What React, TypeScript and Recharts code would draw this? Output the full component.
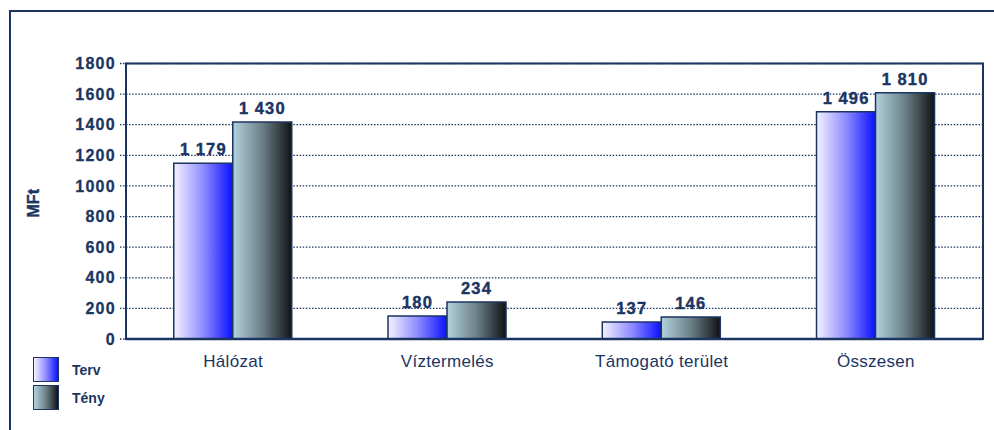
import React from 'react';
import { BarChart, Bar, XAxis, YAxis, CartesianGrid, LabelList, ReferenceArea } from 'recharts';

const categories = ['Hálózat', 'Víztermelés', 'Támogató terület', 'Összesen'];
const tervValues = [1148, 150, 111, 1485];
const tenyValues = [1418, 242, 144, 1609];
const tervLabels = ['1 179', '180', '137', '1 496'];
const tenyLabels = ['1 430', '234', '146', '1 810'];
const seriesNames = ['Terv', 'Tény'];
const yTicks = [0, 200, 400, 600, 800, 1000, 1200, 1400, 1600, 1800];
const yAxisTitle = 'MFt';

const NAVY = '#1b3563';
const FONT = '"Liberation Sans", Arial, Helvetica, sans-serif';

const data = categories.map((c, i) => ({
  cat: c,
  terv: tervValues[i],
  teny: tenyValues[i],
  tervLabel: tervLabels[i],
  tenyLabel: tenyLabels[i],
}));

const tervGradientCss = 'linear-gradient(to right, #f4f2ff 0%, #8f8cff 50%, #0a10ff 100%)';
const tenyGradientCss = 'linear-gradient(to right, #b2d2de 0%, #6c8088 50%, #0f1214 100%)';

const MfLabel = (props: any) => {
  const vb = props.viewBox || { x: 33, y: 63.5, height: 275.5 };
  const x = vb.x + 5.5;
  const y = vb.y + vb.height / 2 + 2;
  return (
    <text
      x={x}
      y={y}
      transform={`rotate(-90, ${x}, ${y})`}
      textAnchor="middle"
      fill={NAVY}
      stroke={NAVY}
      strokeWidth={0.4}
      fontFamily={FONT}
      fontWeight="bold"
      fontSize={16}
    >
      {yAxisTitle}
    </text>
  );
};

const labelStyle = {
  fill: NAVY,
  stroke: NAVY,
  strokeWidth: 0.4,
  fontSize: 16.5,
  fontWeight: 'bold',
  fontFamily: FONT,
  letterSpacing: 1.1,
};

export default function App() {
  return (
    <div
      style={{
        position: 'absolute',
        left: 0,
        top: 0,
        width: 994,
        height: 430,
        overflow: 'hidden',
        background: '#ffffff',
        fontFamily: FONT,
      }}
    >
      <div
        style={{
          position: 'absolute',
          left: 9,
          top: 9.5,
          width: 1100,
          height: 600,
          border: `2px solid ${NAVY}`,
          boxSizing: 'border-box',
        }}
      />
      <div style={{ position: 'absolute', left: 0, top: 0 }}>
        <BarChart
          width={994}
          height={430}
          data={data}
          margin={{ top: 63.5, right: 11, bottom: 61, left: 33 }}
          barCategoryGap="22.3%"
          barGap={0}
        >
          <defs>
            <linearGradient id="gradTerv" x1="0" y1="0" x2="1" y2="0">
              <stop offset="0%" stopColor="#f4f2ff" />
              <stop offset="50%" stopColor="#8f8cff" />
              <stop offset="100%" stopColor="#0a10ff" />
            </linearGradient>
            <linearGradient id="gradTeny" x1="0" y1="0" x2="1" y2="0">
              <stop offset="0%" stopColor="#b2d2de" />
              <stop offset="50%" stopColor="#6c8088" />
              <stop offset="100%" stopColor="#0f1214" />
            </linearGradient>
          </defs>
          <CartesianGrid
            vertical={false}
            stroke={NAVY}
            strokeWidth={1.3}
            strokeDasharray="1.5 1.6"
          />
          <XAxis
            dataKey="cat"
            height={30}
            tickLine={false}
            tickMargin={10}
            axisLine={{ stroke: NAVY, strokeWidth: 2.5 }}
            tick={{ fill: NAVY, fontSize: 17, fontFamily: FONT, letterSpacing: 0.3 }}
            interval={0}
          />
          <YAxis
            width={93}
            domain={[0, 1800]}
            ticks={yTicks}
            interval={0}
            allowDataOverflow
            tickSize={6}
            tickMargin={4}
            tickLine={{ stroke: NAVY, strokeWidth: 1.3, strokeDasharray: '1.5 1.6' }}
            axisLine={{ stroke: NAVY, strokeWidth: 2 }}
            tick={{ fill: NAVY, stroke: NAVY, strokeWidth: 0.3, fontSize: 16, fontWeight: 'bold', fontFamily: FONT, letterSpacing: 1.3 }}
            label={{ content: MfLabel }}
          />
          <ReferenceArea
            x1={categories[0]}
            x2={categories[categories.length - 1]}
            y1={0}
            y2={1800}
            fill="none"
            fillOpacity={0}
            stroke={NAVY}
            strokeWidth={2}
            strokeOpacity={1}
            ifOverflow="visible"
          />
          <Bar
            dataKey="terv"
            name={seriesNames[0]}
            fill="url(#gradTerv)"
            stroke={NAVY}
            strokeWidth={1.5}
            isAnimationActive={false}
          >
            <LabelList dataKey="tervLabel" position="top" offset={8} {...labelStyle} />
          </Bar>
          <Bar
            dataKey="teny"
            name={seriesNames[1]}
            fill="url(#gradTeny)"
            stroke={NAVY}
            strokeWidth={1.5}
            isAnimationActive={false}
          >
            <LabelList dataKey="tenyLabel" position="top" offset={8} {...labelStyle} />
          </Bar>
        </BarChart>
      </div>
      {seriesNames.map((name, i) => (
        <div
          key={name}
          style={{
            position: 'absolute',
            left: 33,
            top: 357 + i * 28,
            height: 25,
            display: 'flex',
            alignItems: 'center',
          }}
        >
          <div
            style={{
              width: 26,
              height: 25,
              boxSizing: 'border-box',
              border: `1.5px solid ${NAVY}`,
              background: i === 0 ? tervGradientCss : tenyGradientCss,
            }}
          />
          <span
            style={{
              marginLeft: 13,
              color: NAVY,
              fontWeight: 'bold',
              fontSize: 14,
              fontFamily: FONT,
            }}
          >
            {name}
          </span>
        </div>
      ))}
    </div>
  );
}
